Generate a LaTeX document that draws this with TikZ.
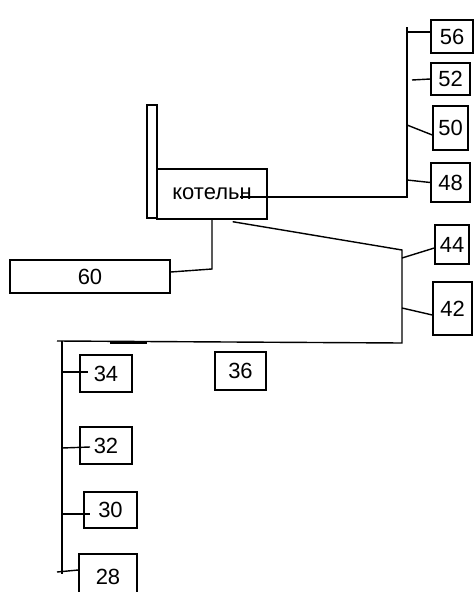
\documentclass[tikz,border=0pt]{standalone}
\usepackage{fontspec}
\setmainfont{Liberation Sans}
\begin{document}
\begin{tikzpicture}[x=0.02cm,y=-0.02cm,line width=0.8pt,
  box/.style={draw,rectangle,inner sep=0pt,font=\fontsize{12.5}{14}\selectfont},
  wire/.style={draw,line width=0.8pt}]
\useasboundingbox (0,0) rectangle (475,592);
% boiler and chimney
\node[box,minimum width=0.2cm,minimum height=2.26cm] (chimney) at (152,161.5) {};
\node[box,minimum width=2.2cm,minimum height=1.0cm] (boiler) at (212,194) {котельн};
% right group
\node[box,minimum width=0.84cm,minimum height=0.66cm] (b56) at (452,36.5) {56};
\node[box,minimum width=0.78cm,minimum height=0.64cm] (b52) at (450.5,79) {52};
\node[box,minimum width=0.70cm,minimum height=0.88cm] (b50) at (450.5,128) {50};
\node[box,minimum width=0.78cm,minimum height=0.78cm] (b48) at (450.5,182.5) {48};
\node[box,minimum width=0.68cm,minimum height=0.78cm] (b44) at (452,244.5) {44};
\node[box,minimum width=0.78cm,minimum height=1.06cm] (b42) at (452.5,308.5) {42};
% left group
\node[box,minimum width=3.2cm,minimum height=0.66cm] (b60) at (90,276.5) {60};
\node[box,minimum width=1.02cm,minimum height=0.76cm] (b36) at (240.5,371) {36};
\node[box,minimum width=1.04cm,minimum height=0.74cm] (b34) at (106,373.5) {34};
\node[box,minimum width=1.04cm,minimum height=0.74cm] (b32) at (106,445.5) {32};
\node[box,minimum width=1.06cm,minimum height=0.72cm] (b30) at (110.5,510) {30};
\node[box,minimum width=1.16cm,minimum height=0.92cm] (b28) at (108,577) {28};
% coordinates
\coordinate (rtop) at (407,27);
\coordinate (rbot) at (407,197);
\coordinate (r56) at (407,32);
\coordinate (s52) at (412,80);
\coordinate (r50) at (407,125);
\coordinate (r48) at (407,180);
\coordinate (mtop) at (402,250);
\coordinate (mbot) at (402,343);
\coordinate (m44) at (402,258);
\coordinate (m42) at (402,308);
\coordinate (lend) at (57,341);
\coordinate (ltop) at (62,341);
\coordinate (lbot) at (62,574);
\coordinate (l34) at (62,372);
\coordinate (l32) at (62,448);
\coordinate (l30) at (62,514);
\coordinate (l28) at (57,572);
\coordinate (k60) at (212,269);
% right bus
\draw[wire] (boiler.center) ++(28,3) -- (rbot) -- (rtop);
\draw[wire] (r56) -- (b56.west |- r56);
\draw[wire] (s52) -- (b52.west);
\draw[wire] (r50) -- ([yshift=-0.14cm]b50.west);
\draw[wire] (r48) -- (b48.west);
% middle bus
\draw[wire] (boiler.south east) ++(-35,2) -- (mtop) -- (mbot) -- (lend);
\draw[line width=2pt] (110,342.5) -- (147,342.5);
\draw[wire] (m44) -- ([yshift=-0.07cm]b44.west);
\draw[wire] (m42) -- ([yshift=-0.13cm]b42.west);
% boiler to 60
\draw[wire] (boiler.south) -- (k60) -- ([yshift=0.09cm]b60.east);
% left bus
\draw[wire] (ltop) -- (lbot);
\draw[wire] (l34) -- ++(26,0);
\draw[wire] (l32) -- ++(28,-1);
\draw[wire] (l30) -- ++(28,0);
\draw[wire] (l28) -- ([yshift=0.14cm]b28.west);
\end{tikzpicture}
\end{document}
